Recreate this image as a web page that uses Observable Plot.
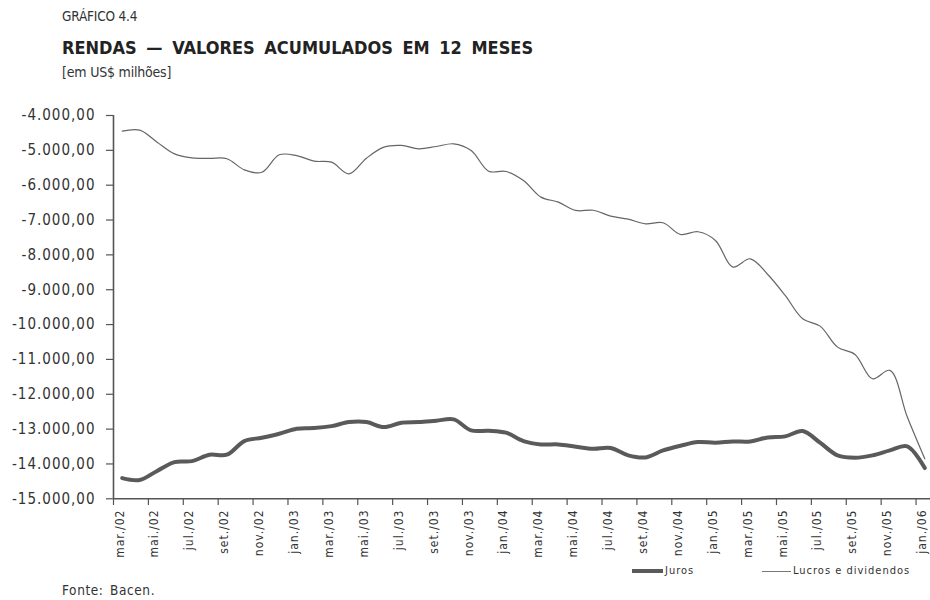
<!DOCTYPE html>
<html>
<head>
<meta charset="utf-8">
<script src="https://cdn.jsdelivr.net/npm/d3@7"></script>
<script src="https://cdn.jsdelivr.net/npm/@observablehq/plot@0.6"></script>
<style>
  body { margin: 0; background: #fff; }
  #wrap { position: relative; width: 930px; height: 600px; overflow: hidden; background: #fff; color: #222; }
  .cond { font-family: "DejaVu Sans Condensed", "Roboto", sans-serif; }
  #kicker { position: absolute; left: 62px; top: 8px; font-size: 13.5px; color: #333; letter-spacing: -0.2px; }
  #title { position: absolute; left: 62px; top: 37px; font-size: 18px; font-weight: bold; color: #222; letter-spacing: 0px; word-spacing: 4px; }
  #unit { position: absolute; left: 62px; top: 64px; font-size: 14px; color: #333; letter-spacing: -0.2px; }
  #chart { position: absolute; left: 0; top: 95px; }
  #chart svg text { letter-spacing: 1px; }
  #legend { position: absolute; top: 564px; left: 0; font-family: "DejaVu Sans Condensed", "DejaVu Sans", sans-serif; font-size: 11px; color: #333; letter-spacing: 1px; }
  .lg { position: absolute; white-space: nowrap; }
  .sw { display: inline-block; vertical-align: middle; }
  #fonte { position: absolute; left: 62px; top: 582px; font-size: 13.5px; color: #333; letter-spacing: 0.6px; word-spacing: 2px; }
</style>
</head>
<body>
<div id="wrap">
  <div id="kicker" class="cond">GRÁFICO 4.4</div>
  <div id="title" class="cond">RENDAS — VALORES ACUMULADOS EM 12 MESES</div>
  <div id="unit" class="cond">[em US$ milhões]</div>
  <div id="chart"></div>
  <div id="legend">
    <div class="lg" style="left:632px;"><span class="sw" style="width:31px;height:4px;background:#5a5a5a;"></span><span style="margin-left:2px;">Juros</span></div>
    <div class="lg" style="left:762px;"><span class="sw" style="width:29px;height:1px;background:#777;"></span><span style="margin-left:2px;">Lucros e dividendos</span></div>
  </div>
  <div id="fonte" class="cond">Fonte:  Bacen.</div>
</div>
<script>
const months = [
  "mar./02","abr./02","mai./02","jun./02","jul./02","ago./02","set./02","out./02","nov./02","dez./02",
  "jan./03","fev./03","mar./03","abr./03","mai./03","jun./03","jul./03","ago./03","set./03","out./03","nov./03","dez./03",
  "jan./04","fev./04","mar./04","abr./04","mai./04","jun./04","jul./04","ago./04","set./04","out./04","nov./04","dez./04",
  "jan./05","fev./05","mar./05","abr./05","mai./05","jun./05","jul./05","ago./05","set./05","out./05","nov./05","dez./05",
  "jan./06"
];
const juros = [
  -14405, -14460, -14200, -13946, -13918, -13735, -13735, -13344, -13247, -13132,
  -12989, -12971, -12914, -12799, -12799, -12942, -12817, -12799, -12760, -12722,
  -13037, -13046, -13103, -13344, -13439, -13439, -13505, -13563, -13544, -13754,
  -13812, -13611, -13477, -13372, -13391, -13353, -13353, -13238, -13209, -13056,
  -13391, -13754, -13821, -13754, -13611, -13496, -14118
];
const lucros = [
  -4450, -4420, -4765, -5100, -5215, -5230, -5240, -5560, -5630, -5128,
  -5150, -5310, -5340, -5675, -5225, -4909, -4860, -4956, -4890, -4813,
  -5004, -5598, -5607, -5865, -6343, -6486, -6725, -6720, -6888, -6975,
  -7108, -7079, -7414, -7337, -7586, -8351, -8112, -8562, -9164, -9833,
  -10045, -10647, -10857, -11554, -11316, -12655, -13850
];
const yTicks = [-4000, -5000, -6000, -7000, -8000, -9000, -10000, -11000, -12000, -13000, -14000, -15000];

const table = months.map((m, i) => ({i, month: m, juros: juros[i], lucros: lucros[i]}));
const labelIdx = months.map((m, i) => i).filter(i => i % 2 === 0);
const tickPos = labelIdx.map(i => i - 0.5);

const fmt = d3.formatLocale({decimal: ",", thousands: ".", grouping: [3], currency: ["", ""], minus: "-"}).format(",.2f");
const axisColor = "#555";
const tickFont = "DejaVu Sans Condensed, DejaVu Sans, sans-serif";

const chart = Plot.plot({
  width: 930,
  height: 470,
  marginLeft: 113,
  marginRight: 0,
  marginTop: 20,
  marginBottom: 67,
  style: {background: "#fff", color: "#333", fontFamily: tickFont, overflow: "visible"},
  x: {type: "linear", domain: [-0.5, 46.5], range: [113, 933]},
  y: {domain: [-15000, -4000], range: [403.3, 20]},
  marks: [
    Plot.axisY({ticks: yTicks, tickFormat: fmt, tickSize: 7, tickPadding: 11, stroke: axisColor, fontSize: 15, fill: "#333", label: null, strokeWidth: 1.2}),
    Plot.axisX({ticks: tickPos, tickFormat: () => "", tickSize: 7, stroke: axisColor, label: null, strokeWidth: 1.2}),
    Plot.axisX({ticks: labelIdx, tickFormat: i => months[i], tickSize: 0, tickPadding: 11, tickRotate: -90, fontSize: 12, fill: "#333", label: null, dx: -2.5}),
    Plot.ruleX([-0.5], {stroke: axisColor, strokeWidth: 1.6}),
    Plot.ruleY([-15000], {stroke: axisColor, strokeWidth: 1.6}),
    Plot.line(table, {x: "i", y: "lucros", curve: "catmull-rom", stroke: "#666", strokeWidth: 1.2}),
    Plot.line(table, {x: "i", y: "juros", curve: "catmull-rom", stroke: "#5a5a5a", strokeWidth: 4})
  ]
});
document.getElementById("chart").appendChild(chart);
</script>
</body>
</html>
